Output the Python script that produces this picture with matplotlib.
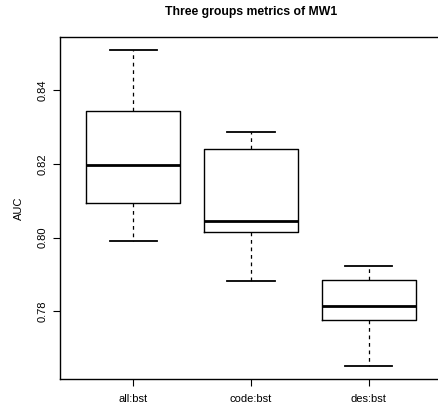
import matplotlib
matplotlib.use("Agg")
import matplotlib.pyplot as plt

plt.rcParams['font.family'] = ['Liberation Sans', 'DejaVu Sans']

# five-number summaries
groups = ["all:bst", "code:bst", "des:bst"]
whislo = [0.7992, 0.7882, 0.7651]
q1 = [0.8095, 0.8016, 0.7776]
med = [0.8197, 0.8046, 0.7814]
q3 = [0.8343, 0.8241, 0.7886]
whishi = [0.8510, 0.8286, 0.7922]
yticks = [0.78, 0.80, 0.82, 0.84]

stats = []
for i, g in enumerate(groups):
    stats.append(dict(label=g, whislo=whislo[i], q1=q1[i], med=med[i],
                      q3=q3[i], whishi=whishi[i], fliers=[]))

fig = plt.figure(figsize=(4.38, 4.12), dpi=100)
ax = fig.add_axes([0.137, 0.080, 1.009 - 0.137, 0.910 - 0.080])

ax.bxp(stats, positions=[1, 2, 3], widths=0.8, patch_artist=False,
       boxprops=dict(color="black", linewidth=1.0),
       medianprops=dict(color="black", linewidth=2.0),
       whiskerprops=dict(color="black", linewidth=0.9, linestyle=(0, (3, 3))),
       capprops=dict(color="black", linewidth=1.3),
       capwidths=0.4, showfliers=False)

lo = min(whislo)
hi = max(whishi)
pad = (hi - lo) * 0.04
ax.set_ylim(lo - pad, hi + pad)
ax.set_xlim(0.38, 3.62)

ax.set_yticks(yticks)
ax.set_yticklabels(["%.2f" % v for v in yticks], rotation=90, va="center")
ax.set_xticks([1, 2, 3])
ax.set_xticklabels(groups)
ax.tick_params(labelsize=8, length=5, width=0.8, direction="out", pad=6)
ax.tick_params(axis="y", pad=4)
for s in ax.spines.values():
    s.set_linewidth(1.0)

ax.set_ylabel("AUC", fontsize=8, labelpad=10)
fig.text(0.574, 0.970, "Three groups metrics of MW1", ha="center", va="center",
         fontsize=8.8, fontweight="bold")

fig.savefig("out.png", dpi=100)
